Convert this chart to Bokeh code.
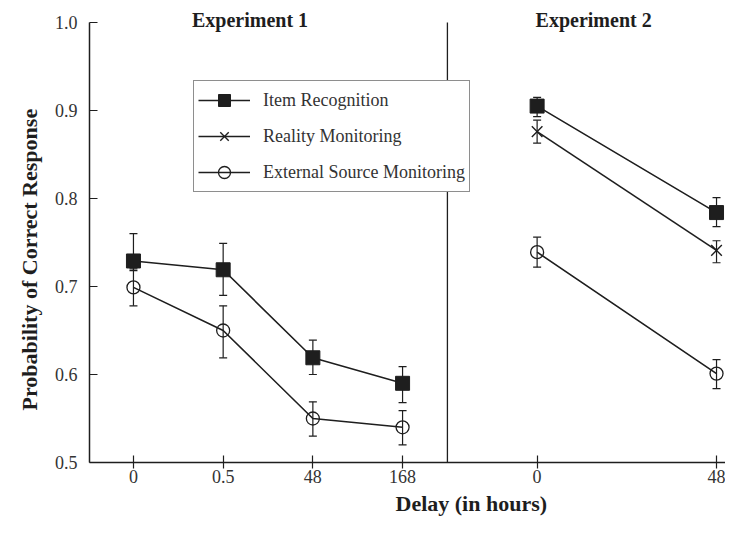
from bokeh.plotting import figure
from bokeh.models import (ColumnDataSource, Whisker, TeeHead, Label, Legend,
                          LegendItem, FixedTicker, Title)
from bokeh.embed import file_html
from bokeh.resources import INLINE

# ---- data ----
tick_positions = [0, 1, 2, 3, 4.5, 6.5]
tick_labels = ["0", "0.5", "48", "168", "0", "48"]
y_ticks = [0.5, 0.6, 0.7, 0.8, 0.9, 1.0]
y_tick_labels = ["0.5", "0.6", "0.7", "0.8", "0.9", "1.0"]
x_exp1 = [0, 1, 2, 3]
x_exp2 = [4.5, 6.5]

item_exp1 = [0.729, 0.719, 0.619, 0.590]
item_exp1_hi = [0.760, 0.749, 0.639, 0.609]
item_exp1_lo = [0.718, 0.690, 0.600, 0.568]
item_exp2 = [0.905, 0.784]
item_exp2_hi = [0.915, 0.801]
item_exp2_lo = [0.893, 0.768]

reality_exp2 = [0.876, 0.741]
reality_exp2_hi = [0.889, 0.752]
reality_exp2_lo = [0.863, 0.727]

ext_exp1 = [0.699, 0.650, 0.550, 0.540]
ext_exp1_hi = [0.720, 0.678, 0.569, 0.559]
ext_exp1_lo = [0.678, 0.619, 0.530, 0.520]
ext_exp2 = [0.739, 0.601]
ext_exp2_hi = [0.756, 0.617]
ext_exp2_lo = [0.722, 0.584]

divider_x = 3.5
series_names = ["Item Recognition", "Reality Monitoring", "External Source Monitoring"]
panel_titles = ["Experiment 1", "Experiment 2"]
panel_title_x = [1.3, 5.13]

SERIF = "Liberation Serif"
INK = "#1e1e1e"

p = figure(frame_width=636, frame_height=454, x_range=(-0.49, 6.6), y_range=(0.5, 1.0159),
           output_backend="svg", toolbar_location=None,
           min_border_left=89, min_border_right=0, min_border_top=8, min_border_bottom=67)
p.outline_line_color = None
p.xgrid.visible = False
p.ygrid.visible = False
p.background_fill_color = "white"

# axes
p.xaxis.ticker = FixedTicker(ticks=tick_positions)
p.xaxis.major_label_overrides = {k: v for k, v in zip(tick_positions, tick_labels)}
p.xaxis.major_tick_in = 7
p.xaxis.major_tick_out = 6
p.xaxis.minor_tick_line_color = None
p.yaxis.ticker = FixedTicker(ticks=y_ticks)
p.yaxis.major_label_overrides = {k: v for k, v in zip(y_ticks, y_tick_labels)}
p.yaxis.bounds = (0.5, 1.0)
p.yaxis.major_tick_in = 8
p.yaxis.major_tick_out = 0
p.yaxis.minor_tick_line_color = None
for ax in (p.xaxis, p.yaxis):
    ax.axis_line_color = INK
    ax.axis_line_width = 1.5
    ax.major_tick_line_color = INK
    ax.major_tick_line_width = 1.2
    ax.major_label_text_font = SERIF
    ax.major_label_text_font_size = "18px"
    ax.major_label_text_color = "#333333"
p.xaxis.major_label_standoff = 1
p.yaxis.major_label_standoff = 12

# axis titles
p.add_layout(Title(text="Probability of Correct Response", align="left", offset=52,
                   standoff=19, text_font=SERIF, text_font_style="bold",
                   text_font_size="22px", text_color=INK), "left")
p.add_layout(Title(text="Delay (in hours)", align="left", offset=306, standoff=6,
                   text_font=SERIF, text_font_style="bold", text_font_size="22px",
                   text_color=INK), "below")

# panel titles
for tx, tt in zip(panel_title_x, panel_titles):
    p.add_layout(Label(x=tx, y=1.0023, text=tt, text_font=SERIF, text_font_style="bold",
                       text_font_size="20px", text_color=INK, text_align="center",
                       text_baseline="alphabetic"))

# divider between experiments
p.segment(x0=[divider_x], y0=[y_ticks[0]], x1=[divider_x], y1=[y_ticks[-1]],
          line_color=INK, line_width=1.3)

nan = float("nan")

def add_whiskers(xs, hi, lo):
    src = ColumnDataSource(dict(x=xs, upper=hi, lower=lo))
    w = Whisker(source=src, base="x", upper="upper", lower="lower",
                line_color=INK, line_width=1.2,
                upper_head=TeeHead(size=8, line_color=INK, line_width=1.2),
                lower_head=TeeHead(size=8, line_color=INK, line_width=1.2))
    p.add_layout(w)

add_whiskers(x_exp1, item_exp1_hi, item_exp1_lo)
add_whiskers(x_exp2, item_exp2_hi, item_exp2_lo)
add_whiskers(x_exp2, reality_exp2_hi, reality_exp2_lo)
add_whiskers(x_exp1, ext_exp1_hi, ext_exp1_lo)
add_whiskers(x_exp2, ext_exp2_hi, ext_exp2_lo)

# item recognition
item_x = x_exp1 + [nan] + x_exp2
item_y = item_exp1 + [nan] + item_exp2
l_item = p.line(item_x, item_y, line_color=INK, line_width=1.6)
s_item = p.scatter(x_exp1 + x_exp2, item_exp1 + item_exp2, marker="square", size=14,
                   fill_color=INK, line_color=INK)

# reality monitoring
l_real = p.line(x_exp2, reality_exp2, line_color=INK, line_width=1.6)
s_real = p.scatter(x_exp2, reality_exp2, marker="x", size=15, line_color=INK, line_width=1.4)

# external source monitoring
ext_x = x_exp1 + [nan] + x_exp2
ext_y = ext_exp1 + [nan] + ext_exp2
l_ext = p.line(ext_x, ext_y, line_color=INK, line_width=1.6)
s_ext = p.scatter(x_exp1 + x_exp2, ext_exp1 + ext_exp2, marker="circle", size=13,
                  fill_color=None, line_color=INK, line_width=1.3)

legend = Legend(items=[
    LegendItem(label=series_names[0], renderers=[l_item, s_item]),
    LegendItem(label=series_names[1], renderers=[l_real, s_real]),
    LegendItem(label=series_names[2], renderers=[l_ext, s_ext]),
], location=(104, 270))
legend.label_text_font = SERIF
legend.label_text_font_size = "18px"
legend.label_text_color = "#333333"
legend.border_line_color = INK
legend.border_line_width = 1.3
legend.background_fill_alpha = 1.0
legend.glyph_width = 52
legend.glyph_height = 30
legend.label_height = 30
legend.spacing = 6
legend.padding = 4
legend.margin = 0
legend.label_standoff = 13
p.add_layout(legend, "center")

open("out.html", "w").write(file_html(p, INLINE))
